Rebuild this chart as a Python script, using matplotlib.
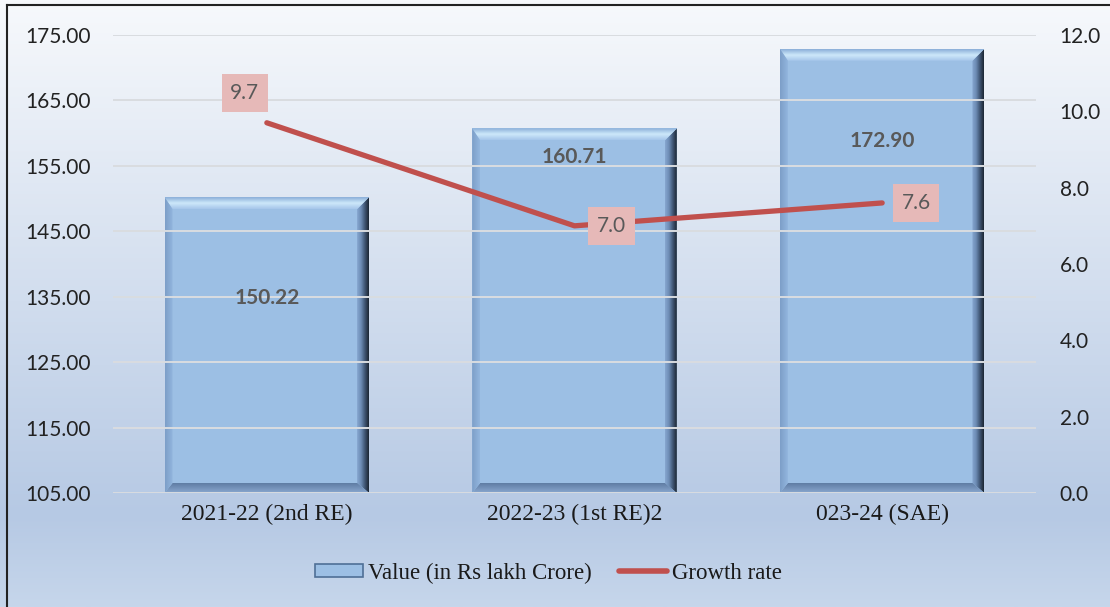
import matplotlib
matplotlib.use("Agg")
import matplotlib.pyplot as plt
import numpy as np
from matplotlib.colors import LinearSegmentedColormap
from matplotlib.patches import Polygon, Rectangle
from matplotlib.lines import Line2D

# data
categories = ["2021-22 (2nd RE)", "2022-23 (1st RE)2", "023-24 (SAE)"]
values = [150.22, 160.71, 172.90]
growth = [9.7, 7.0, 7.6]
value_labels = ["150.22", "160.71", "172.90"]
growth_labels = ["9.7", "7.0", "7.6"]
left_ticks = [105, 115, 125, 135, 145, 155, 165, 175]
right_ticks = [0, 2, 4, 6, 8, 10, 12]

# layout bits (not data)
bar_label_y = [134.8, 156.4, 158.8]
growth_label_off = [(-22, 30), (37, 0), (34, 0)]

W, H = 1110, 607
fig = plt.figure(figsize=(W / 100, H / 100), dpi=100)

# background gradient for whole figure
bg = fig.add_axes([0, 0, 1, 1], zorder=-10)
bg_cmap = LinearSegmentedColormap.from_list(
    "bg", [(0, "#f7f9fc"), (0.85, "#b6c9e4"), (1.0, "#c6d6eb")])
bg.imshow(np.linspace(0, 1, 256).reshape(-1, 1), aspect="auto", cmap=bg_cmap,
          extent=[0, 1, 0, 1], origin="upper")
bg.set_axis_off()
# dark frame at left and top
bg.plot([0.006, 0.006], [0, 0.992], color="#222222", lw=1.5, transform=bg.transAxes)
bg.plot([0.006, 1], [0.992, 0.992], color="#222222", lw=1.5, transform=bg.transAxes)
bg.set_xlim(0, 1)
bg.set_ylim(0, 1)

ax = fig.add_axes([113 / W, (H - 493) / H, 923 / W, 458 / H])
ax.patch.set_alpha(0)
ax.set_xlim(-0.5, 2.5)
ax.set_ylim(105, 175)
for s in ax.spines.values():
    s.set_visible(False)

ax.set_yticks(left_ticks)
ax.set_yticklabels(["%.2f" % t for t in left_ticks], fontfamily="Lato",
                   fontsize=15, color="#222222")
ax.tick_params(axis="y", length=0, pad=16)
ax.set_xticks(range(len(categories)))
ax.set_xticklabels(categories, fontfamily="Liberation Serif", fontsize=17,
                   color="#1a1a1a")
ax.tick_params(axis="x", length=0, pad=8)
# gridlines run over the bars in the original
for t in left_ticks:
    ax.axhline(t, color="#d9dce0", lw=1.4, zorder=4)

# bevelled bars
bw = 0.665
pxx = 923 / 3.0
pxy = 458 / 70.0
bx = 12 / pxx
btop = 12 / pxy
bbot = 10 / pxy
bl = 8 / pxx

right_cmap = LinearSegmentedColormap.from_list(
    "r", ["#86a7d0", "#6d8cb5", "#3f5573", "#1c2633"])
top_cmap = LinearSegmentedColormap.from_list(
    "t", ["#8aaed8", "#cde8fa", "#a6c6ea"])
bot_cmap = LinearSegmentedColormap.from_list("b", ["#8aa8d0", "#5f7ca3"])
left_cmap = LinearSegmentedColormap.from_list("l", ["#7c9ec8", "#93b6de"])


def grad(cmap, x0, x1, y0, y1, poly, horizontal, flip=False):
    if horizontal:
        arr = np.linspace(0, 1, 64).reshape(1, -1)
        origin = "upper"
    else:
        arr = np.linspace(0, 1, 64).reshape(-1, 1)
        origin = "upper" if flip else "lower"
    im = ax.imshow(arr, cmap=cmap, aspect="auto", extent=[x0, x1, y0, y1],
                   origin=origin, zorder=3, interpolation="bilinear")
    p = Polygon(poly, closed=True, transform=ax.transData, facecolor="none",
                edgecolor="none")
    ax.add_patch(p)
    im.set_clip_path(p)


for i, v in enumerate(values):
    x0, x1 = i - bw / 2, i + bw / 2
    y0, y1 = 105, v
    ax.add_patch(Rectangle((x0, y0), bw, y1 - y0, facecolor="#9cbfe4",
                           edgecolor="none", zorder=2))
    # right side
    grad(right_cmap, x1 - bx, x1, y0, y1,
         [(x1, y1), (x1, y0), (x1 - bx, y0 + bbot), (x1 - bx, y1 - btop)], True)
    # top side
    grad(top_cmap, x0, x1, y1 - btop, y1,
         [(x0, y1), (x1, y1), (x1 - bx, y1 - btop), (x0 + bl, y1 - btop)],
         False, flip=True)
    # bottom side
    grad(bot_cmap, x0, x1, y0, y0 + bbot,
         [(x0, y0), (x1, y0), (x1 - bx, y0 + bbot), (x0 + bl, y0 + bbot)], False)
    # left side
    grad(left_cmap, x0, x0 + bl, y0, y1,
         [(x0, y0), (x0, y1), (x0 + bl, y1 - btop), (x0 + bl, y0 + bbot)], True)
    ax.text(i, bar_label_y[i], value_labels[i], ha="center", va="center",
            fontfamily="Lato", fontweight="bold", fontsize=15, color="#595959",
            zorder=6)

ax.set_xlim(-0.5, 2.5)
ax.set_ylim(105, 175)

ax2 = ax.twinx()
ax2.set_ylim(0, 12)
ax2.set_yticks(right_ticks)
ax2.set_yticklabels(["%.1f" % t for t in right_ticks], fontfamily="Lato",
                    fontsize=15, color="#222222")
ax2.tick_params(axis="y", length=0, pad=17)
for s in ax2.spines.values():
    s.set_visible(False)
ax2.plot(range(len(growth)), growth, color="#c0504d", lw=3.8,
         solid_capstyle="round", zorder=5)
for i, g in enumerate(growth):
    ax2.annotate(growth_labels[i], (i, g), xytext=growth_label_off[i],
                 textcoords="offset pixels", ha="center", va="center",
                 fontfamily="Lato", fontsize=15, color="#595959", zorder=7,
                 bbox=dict(boxstyle="square,pad=0.42", facecolor="#e6b9b8",
                           edgecolor="none"))

# legend
handles = [Rectangle((0, 0), 1, 1, facecolor="#9cbfe4", edgecolor="#4f6f96",
                     lw=1.2),
           Line2D([0], [0], color="#c0504d", lw=4, solid_capstyle="round")]
fig.legend(handles, ["Value (in Rs lakh Crore)", "Growth rate"],
           loc="center", bbox_to_anchor=(0.494, 0.056), ncol=2, frameon=False,
           prop={"family": "Liberation Serif", "size": 16.5},
           handlelength=2.1, handleheight=0.5, handletextpad=0.2,
           columnspacing=1.2, labelcolor="#1a1a1a")

fig.savefig("out.png", dpi=100)
